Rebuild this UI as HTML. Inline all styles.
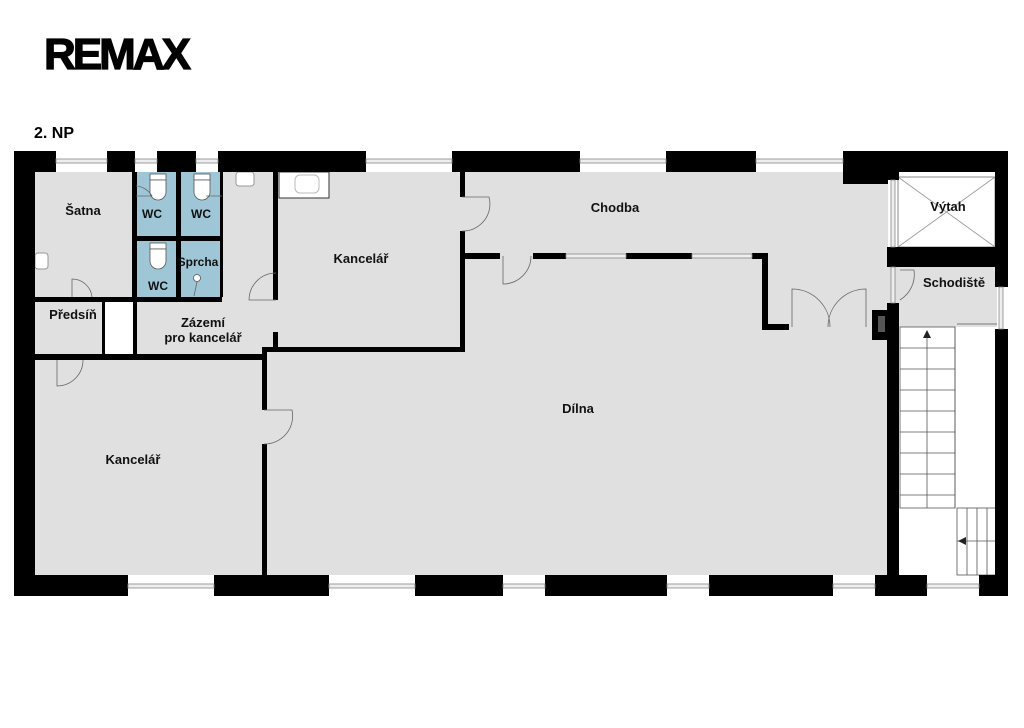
<!DOCTYPE html>
<html><head><meta charset="utf-8"><style>
body{margin:0;background:#fff;width:1024px;height:723px;overflow:hidden}
text{font-family:"Liberation Sans",sans-serif;font-weight:bold;fill:#111}
</style></head><body>
<svg width="1024" height="723" viewBox="0 0 1024 723" xmlns="http://www.w3.org/2000/svg">
<text x="44" y="69" font-size="44" style="letter-spacing:-3px;fill:#000;stroke:#000;stroke-width:1.2" textLength="144" lengthAdjust="spacingAndGlyphs">REMAX</text>
<text x="34" y="138" font-size="16" style="fill:#000">2. NP</text>
<!-- floors -->
<rect x="35" y="172" width="853" height="403" fill="#e0e0e0"/>
<rect x="887" y="267" width="110" height="60" fill="#e0e0e0"/>
<rect x="105" y="302" width="28" height="52" fill="#fff"/>
<rect x="279" y="172" width="50" height="26" fill="#fff" stroke="#333" stroke-width="1"/>
<rect x="295" y="175" width="24" height="18" rx="5" fill="#fff" stroke="#bbb"/>
<rect x="236" y="172" width="18" height="14" rx="3" fill="#fff" stroke="#999"/>
<rect x="35" y="253" width="13" height="16" rx="3" fill="#fff" stroke="#999"/>
<!-- WC -->
<g fill="#9fc6d6">
<rect x="137" y="172" width="39" height="64"/><rect x="181" y="172" width="39" height="64"/>
<rect x="137" y="241" width="39" height="56"/><rect x="181" y="241" width="39" height="56"/>
</g>
<g fill="#fff" stroke="#555" stroke-width="0.8">
<rect x="150" y="174" width="16" height="6"/><path d="M150 180 h16 v12 a8 8 0 0 1 -16 0z"/>
<rect x="194" y="174" width="16" height="6"/><path d="M194 180 h16 v12 a8 8 0 0 1 -16 0z"/>
<rect x="150" y="243" width="16" height="6"/><path d="M150 249 h16 v12 a8 8 0 0 1 -16 0z"/>
<circle cx="197" cy="278" r="3.5"/>
</g>
<!-- elevator -->
<rect x="898" y="177" width="97" height="70" fill="#fff" stroke="#888"/>
<path d="M898 177 L995 247 M995 177 L898 247" stroke="#999" stroke-width="0.8"/>
<!-- stairs -->
<g stroke="#555" stroke-width="0.8" fill="none">
<rect x="900" y="327" width="55" height="181"/>
<path d="M900 348h55M900 369h55M900 390h55M900 411h55M900 432h55M900 453h55M900 474h55M900 495h55"/>
<path d="M927 508V332"/>
<path d="M955 327V508M957 324h40"/>
<rect x="957" y="508" width="40" height="67"/>
<path d="M967 508v67M977 508v67M987 508v67M957 541h40"/>
</g>
<path d="M927 330l-4 8h8z M958 541l8 -4v8z" fill="#222"/>
<!-- outer walls -->
<g fill="#000">
<rect x="14" y="151" width="21" height="445"/>
<rect x="14" y="151" width="42" height="21"/><rect x="107" y="151" width="28" height="21"/>
<rect x="157" y="151" width="39" height="21"/><rect x="218" y="151" width="148" height="21"/>
<rect x="452" y="151" width="128" height="21"/><rect x="666" y="151" width="90" height="21"/>
<rect x="843" y="151" width="165" height="21"/>
<rect x="843" y="151" width="45" height="33"/>
<rect x="995" y="151" width="13" height="136"/><rect x="995" y="329" width="13" height="267"/>
<rect x="14" y="575" width="114" height="21"/><rect x="214" y="575" width="115" height="21"/>
<rect x="415" y="575" width="88" height="21"/><rect x="545" y="575" width="122" height="21"/>
<rect x="709" y="575" width="124" height="21"/><rect x="875" y="575" width="52" height="21"/>
<rect x="979" y="575" width="29" height="21"/>
<!-- stairwell walls -->
<rect x="887" y="247" width="110" height="20"/>
<rect x="887" y="303" width="12" height="272"/>
<rect x="887" y="172" width="12" height="8"/>
<rect x="872" y="310" width="16" height="30"/>
<!-- interior -->
<rect x="132" y="172" width="5" height="130"/>
<rect x="176" y="172" width="5" height="125"/>
<rect x="220" y="172" width="3" height="125"/>
<rect x="137" y="236" width="85" height="5"/>
<rect x="35" y="297" width="187" height="5"/>
<rect x="102" y="302" width="3" height="52"/>
<rect x="133" y="297" width="4" height="57"/>
<rect x="273" y="172" width="5" height="128"/><rect x="273" y="332" width="5" height="20"/>
<rect x="35" y="354" width="230" height="6"/>
<rect x="262" y="347" width="5" height="63"/><rect x="262" y="444" width="5" height="131"/>
<rect x="262" y="347" width="203" height="5"/>
<rect x="460" y="172" width="5" height="25"/><rect x="460" y="231" width="5" height="121"/>
<rect x="460" y="253" width="40" height="6"/><rect x="533" y="253" width="33" height="6"/>
<rect x="626" y="253" width="66" height="6"/><rect x="752" y="253" width="16" height="6"/>
<rect x="762" y="253" width="6" height="77"/><rect x="762" y="324" width="27" height="6"/>
</g>
<rect x="878" y="316" width="7" height="16" fill="#555"/>
<!-- windows -->
<g fill="#eee" stroke="#888" stroke-width="0.8">
<rect x="56" y="159" width="51" height="4"/><rect x="135" y="159" width="22" height="4"/>
<rect x="196" y="159" width="22" height="4"/><rect x="366" y="159" width="86" height="4"/>
<rect x="580" y="159" width="86" height="4"/><rect x="756" y="159" width="87" height="4"/>
<rect x="128" y="584" width="86" height="4"/><rect x="329" y="584" width="86" height="4"/>
<rect x="503" y="584" width="42" height="4"/><rect x="667" y="584" width="42" height="4"/>
<rect x="833" y="584" width="42" height="4"/><rect x="927" y="584" width="52" height="4"/>
<rect x="999" y="287" width="4" height="42"/>
<rect x="566" y="254" width="60" height="4"/><rect x="692" y="254" width="60" height="4"/>
<rect x="891" y="180" width="4" height="67"/>
<rect x="891" y="267" width="4" height="36"/>
</g>
<!-- doors -->
<g fill="none" stroke="#666" stroke-width="0.8">
<path d="M72 297v-18a20 20 0 0 1 20 18"/>
<path d="M57 360v26a26 26 0 0 0 26 -26"/>
<path d="M276 300h-27a27 27 0 0 1 27 -27"/>
<path d="M264 410h28a28 28 0 0 1 -28 34"/>
<path d="M462 197h27a27 27 0 0 1 -27 34"/>
<path d="M503 256v28a28 28 0 0 0 28 -28"/>
<path d="M792 327v-38a38 38 0 0 1 38 38M866 327v-38a38 38 0 0 0 -38 38"/>
<path d="M900 270h14a30 30 0 0 1 -14 30"/>
<path d="M136 196h16a20 20 0 0 0 -16 -10M222 196h-16"/>
<path d="M197 282l-3 14"/>
</g>
<!-- labels -->
<g font-size="13" text-anchor="middle">
<text x="83" y="215">Šatna</text>
<text x="152" y="218" font-size="12">WC</text><text x="201" y="218" font-size="12">WC</text>
<text x="158" y="290" font-size="12">WC</text><text x="198" y="266" font-size="12">Sprcha</text>
<text x="73" y="319">Předsíň</text>
<text x="203" y="327">Zázemí</text><text x="203" y="342">pro kancelář</text>
<text x="361" y="263">Kancelář</text>
<text x="615" y="212">Chodba</text>
<text x="948" y="211">Výtah</text>
<text x="954" y="287">Schodiště</text>
<text x="578" y="413">Dílna</text>
<text x="133" y="464">Kancelář</text>
</g>
</svg>
</body></html>
